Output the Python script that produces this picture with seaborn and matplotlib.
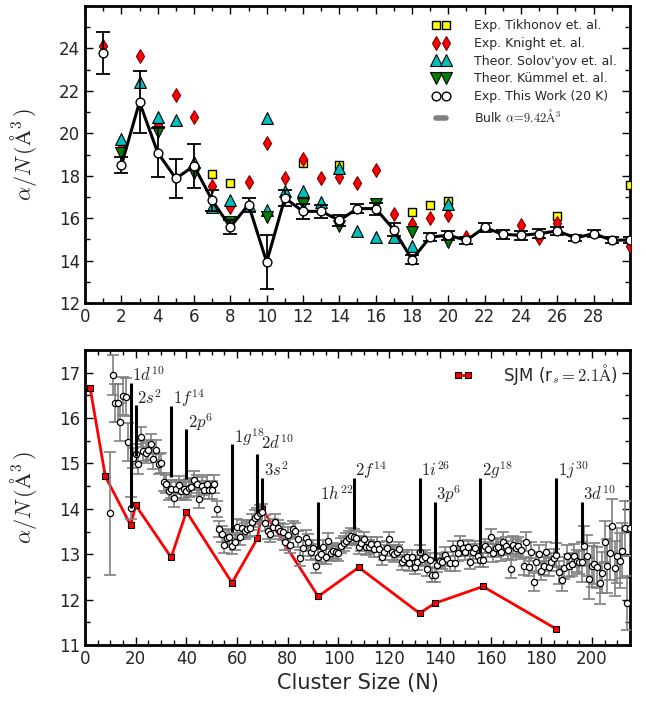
import numpy as np
import matplotlib
matplotlib.use("Agg")
import matplotlib.pyplot as plt
from matplotlib.lines import Line2D
from matplotlib.ticker import MultipleLocator
import seaborn as sns

# ---------------- top panel data ----------------
n_this = list(range(1, 31))
a_this = [23.79, 18.49, 21.47, 19.09, 17.87, 18.46, 16.84, 15.58, 16.64, 13.93,
          16.95, 16.32, 16.32, 15.90, 16.45, 16.45, 15.46, 14.05, 15.11, 15.19,
          14.96, 15.56, 15.24, 15.19, 15.27, 15.40, 15.07, 15.27, 14.96, 14.97]
e_this = [0.99, 0.38, 1.46, 1.15, 0.93, 1.02, 0.50, 0.33, 0.33, 1.27,
          0.40, 0.37, 0.30, 0.25, 0.20, 0.28, 0.30, 0.22, 0.20, 0.22,
          0.17, 0.20, 0.20, 0.20, 0.20, 0.20, 0.15, 0.15, 0.14, 0.15]

n_tik = [7, 8, 12, 14, 18, 19, 20, 26, 30]
a_tik = [18.10, 17.68, 18.58, 18.50, 16.29, 16.60, 16.79, 16.09, 17.58]

n_kni = [1, 2, 3, 4, 5, 6, 7, 8, 9, 10, 11, 12, 13, 14, 15, 16, 17, 18, 19, 20,
         21, 24, 25, 26, 30]
a_kni = [24.11, 19.31, 23.65, 20.45, 21.80, 20.75, 17.50, 16.53, 17.69, 19.55,
         17.87, 18.78, 17.87, 17.95, 17.64, 18.26, 16.19, 15.74, 16.03, 16.14,
         15.11, 15.70, 15.08, 15.78, 14.67]

n_sol = [2, 3, 4, 5, 6, 7, 8, 9, 10, 10, 11, 12, 13, 14, 15, 16, 17, 18, 20]
a_sol = [19.75, 22.42, 20.77, 20.65, 18.65, 16.53, 16.86, 16.62, 20.70, 16.37,
         17.29, 17.30, 16.74, 18.38, 15.40, 15.12, 15.12, 14.68, 16.65]

n_kum = [2, 4, 6, 8, 10, 12, 14, 16, 18, 20]
a_kum = [19.05, 20.06, 18.13, 15.82, 16.06, 16.66, 15.62, 16.69, 15.36, 14.88]

bulk_alpha = 9.42

# ---------------- bottom panel data ----------------
n_big = list(range(10, 216))
a_big = [13.90, 16.95, 16.33, 16.33, 15.92, 16.48, 16.47, 15.47, 14.02, 15.13,
         15.21, 14.98, 15.58, 15.27, 15.23, 15.30, 15.42, 15.09, 15.29, 14.98,
         15.02, 14.59, 14.55, 14.39, 14.44, 14.24, 14.43, 14.52, 14.39, 14.44,
         14.39, 14.46, 14.48, 14.63, 14.55, 14.21, 14.50, 14.41, 14.55, 14.41,
         14.42, 14.55, 13.99, 13.56, 13.45, 13.20, 13.35, 13.38, 13.18, 13.28,
         13.60, 13.39, 13.57, 13.51, 13.55, 13.58, 13.71, 13.79, 13.84, 13.90,
         13.92, 13.69, 13.52, 13.45, 13.59, 13.71, 13.58, 13.51, 13.49, 13.27,
         13.42, 13.20, 13.55, 13.51, 13.34, 12.91, 13.14, 13.35, 13.26, 13.05,
         13.14, 12.74, 12.95, 13.00, 13.16, 12.95, 13.30, 13.02, 13.08, 13.06,
         13.02, 13.19, 13.24, 13.30, 13.36, 13.41, 13.39, 13.36, 13.16, 13.24,
         13.33, 13.15, 13.16, 13.22, 13.11, 13.22, 13.11, 12.93, 13.04, 13.13,
         13.33, 13.04, 13.00, 13.04, 13.11, 12.82, 12.90, 12.93, 12.80, 12.93,
         12.72, 12.82, 13.04, 12.89, 12.93, 12.67, 12.87, 12.54, 12.54, 12.76,
         12.86, 12.84, 12.99, 12.89, 12.80, 13.13, 12.80, 13.02, 13.24, 13.13,
         13.04, 13.15, 12.84, 13.06, 13.13, 12.97, 12.87, 12.87, 13.18, 13.11,
         13.39, 13.02, 13.13, 13.16, 13.06, 13.28, 13.18, 13.09, 12.67, 13.20,
         13.13, 13.18, 13.09, 12.74, 13.28, 12.72, 13.06, 12.38, 12.84, 13.00,
         12.64, 12.74, 13.06, 12.72, 12.82, 12.91, 12.99, 12.60, 12.44, 12.70,
         12.96, 12.75, 12.78, 12.97, 12.85, 12.82, 12.83, 13.18, 12.97, 12.46,
         12.73, 12.79, 12.71, 12.36, 12.59, 13.28, 12.74, 13.03, 13.62, 12.69,
         12.97, 12.86, 13.08, 13.57, 11.93, 13.57]
e_big = [1.35, 0.45, 0.42, 0.42, 0.42, 0.42, 0.42, 0.42, 0.25, 0.22,
         0.22, 0.22, 0.22, 0.22, 0.22, 0.22, 0.22, 0.22, 0.22, 0.22,
         0.22, 0.20, 0.20, 0.20, 0.20, 0.20, 0.20, 0.20, 0.20, 0.20,
         0.20, 0.20, 0.20, 0.20, 0.20, 0.20, 0.20, 0.20, 0.20, 0.20,
         0.20, 0.20, 0.18, 0.18, 0.18, 0.18, 0.18, 0.18, 0.18, 0.18,
         0.18, 0.18, 0.18, 0.18, 0.18, 0.18, 0.18, 0.18, 0.18, 0.18,
         0.18, 0.18, 0.18, 0.18, 0.18, 0.18, 0.18, 0.18, 0.18, 0.18,
         0.18, 0.18, 0.18, 0.18, 0.18, 0.18, 0.18, 0.18, 0.18, 0.18,
         0.18, 0.16, 0.16, 0.16, 0.16, 0.16, 0.16, 0.16, 0.16, 0.16,
         0.16, 0.16, 0.16, 0.16, 0.16, 0.16, 0.16, 0.16, 0.16, 0.16,
         0.16, 0.16, 0.16, 0.16, 0.16, 0.16, 0.16, 0.16, 0.16, 0.16,
         0.16, 0.16, 0.16, 0.16, 0.16, 0.16, 0.16, 0.16, 0.16, 0.16,
         0.16, 0.16, 0.16, 0.16, 0.16, 0.16, 0.16, 0.16, 0.16, 0.16,
         0.16, 0.16, 0.16, 0.16, 0.16, 0.16, 0.16, 0.16, 0.16, 0.16,
         0.16, 0.16, 0.16, 0.16, 0.16, 0.16, 0.16, 0.16, 0.16, 0.16,
         0.16, 0.20, 0.20, 0.20, 0.20, 0.20, 0.20, 0.20, 0.20, 0.20,
         0.20, 0.20, 0.20, 0.20, 0.20, 0.20, 0.20, 0.20, 0.20, 0.20,
         0.20, 0.20, 0.20, 0.20, 0.20, 0.20, 0.25, 0.25, 0.25, 0.25,
         0.25, 0.25, 0.25, 0.25, 0.25, 0.25, 0.45, 0.45, 0.45, 0.45,
         0.45, 0.45, 0.45, 0.45, 0.45, 0.45, 0.60, 0.60, 0.60, 0.60,
         0.60, 0.60, 0.60, 0.60, 0.60, 0.60]

n_sjm = [2, 8, 18, 20, 34, 40, 58, 68, 70, 92, 108, 132, 138, 157, 186]
a_sjm = [16.67, 14.72, 13.64, 14.08, 12.93, 13.94, 12.37, 13.35, 13.99, 12.07,
         12.71, 11.70, 11.92, 12.29, 11.35]

shell_n = [18, 20, 34, 40, 58, 68, 70, 92, 106, 132, 138, 156, 186, 196]
shell_lo = [14.03, 15.16, 14.70, 14.65, 13.50, 13.90, 13.99, 13.11, 13.55, 13.03,
            12.85, 13.03, 13.03, 13.22]
shell_hi = [16.78, 16.28, 16.27, 15.75, 15.42, 15.22, 14.69, 14.16, 14.69, 14.69,
            14.16, 14.69, 14.69, 14.16]
shell_lab = [r'$1d^{10}$', r'$2s^{2}$', r'$1f^{14}$', r'$2p^{6}$', r'$1g^{18}$',
             r'$2d^{10}$', r'$3s^{2}$', r'$1h^{22}$', r'$2f^{14}$', r'$1i^{26}$',
             r'$3p^{6}$', r'$2g^{18}$', r'$1j^{30}$', r'$3d^{10}$']

# ---------------- style ----------------
sns.set_style("ticks")
plt.rcParams['font.family'] = ['DejaVu Sans']
plt.rcParams['mathtext.fontset'] = 'cm'

fig = plt.figure(figsize=(6.46, 7.06), dpi=100)
ax1 = fig.add_axes([0.1316, 0.5708, 0.8436, 0.4207])
ax2 = fig.add_axes([0.1316, 0.0864, 0.8436, 0.4178])

def style_axes(ax):
    for s in ax.spines.values():
        s.set_linewidth(2.0)
        s.set_color('black')
    ax.tick_params(which='both', direction='in', top=True, right=True,
                   width=1.0, color='black', labelsize=12)
    ax.tick_params(which='major', length=6)
    ax.tick_params(which='minor', length=3.5)

# ---------------- top panel ----------------
ax1.axhline(bulk_alpha, color='gray', lw=4)
sns.scatterplot(x=n_tik, y=a_tik, marker='s', s=36, color='yellow',
                edgecolor='black', linewidth=1.0, ax=ax1, zorder=3)
sns.scatterplot(x=n_kni, y=a_kni, marker='d', s=49, color='red',
                edgecolor='#7a0000', linewidth=0.8, ax=ax1, zorder=3)
sns.scatterplot(x=n_sol, y=a_sol, marker='^', s=72, color='#00bfbf',
                edgecolor='black', linewidth=0.8, ax=ax1, zorder=3)
sns.scatterplot(x=n_kum, y=a_kum, marker='v', s=72, color='#008000',
                edgecolor='black', linewidth=0.8, ax=ax1, zorder=3)
sns.lineplot(x=n_this[1:], y=a_this[1:], color='black', lw=2.2, ax=ax1,
             estimator=None, sort=False, zorder=4, legend=False)
ax1.errorbar(n_this, a_this, yerr=e_this, fmt='none', ecolor='black',
             elinewidth=1.3, capsize=5, capthick=1.3, zorder=4)
sns.scatterplot(x=n_this, y=a_this, marker='o', s=40, color='white',
                edgecolor='black', linewidth=1.0, ax=ax1, zorder=5)

ax1.set_xlim(0, 30)
ax1.set_ylim(12, 26)
ax1.xaxis.set_minor_locator(MultipleLocator(1))
ax1.yaxis.set_minor_locator(MultipleLocator(1))
ax1.set_xticks(np.arange(0, 29, 2))
ax1.set_yticks(np.arange(12, 25, 2))
ax1.set_ylabel(r'$\alpha/N\,(\mathrm{\AA}^3\,)$', fontsize=16)
style_axes(ax1)

h = [
    Line2D([], [], ls='none', marker='s', ms=6, mfc='yellow', mec='black', mew=1.0),
    Line2D([], [], ls='none', marker='d', ms=7, mfc='red', mec='#7a0000', mew=0.8),
    Line2D([], [], ls='none', marker='^', ms=8.5, mfc='#00bfbf', mec='black', mew=0.8),
    Line2D([], [], ls='none', marker='v', ms=8.5, mfc='#008000', mec='black', mew=0.8),
    Line2D([], [], ls='none', marker='o', ms=6.3, mfc='white', mec='black', mew=1.0),
    Line2D([], [], color='gray', lw=4),
]
lab = ['Exp. Tikhonov et. al.', 'Exp. Knight et. al.', "Theor. Solov'yov et. al.",
       'Theor. Kümmel et. al.', 'Exp. This Work (20 K)',
       r'Bulk $\alpha\!=\!9.42\mathrm{\AA}^3$']
ax1.legend(h, lab, loc='upper right', frameon=False, fontsize=9, numpoints=2,
           handlelength=1.4, handletextpad=1.9, labelspacing=0.38,
           borderaxespad=0.65)

# ---------------- bottom panel ----------------
sns.lineplot(x=n_sjm, y=a_sjm, color='red', lw=2.0, ax=ax2, estimator=None,
             sort=False, zorder=2, legend=False)
sns.scatterplot(x=n_sjm, y=a_sjm, marker='s', s=22, color='red',
                edgecolor='black', linewidth=0.8, ax=ax2, zorder=2.5)
ax2.errorbar(n_big, a_big, yerr=e_big, fmt='none', ecolor='gray',
             elinewidth=1.2, capsize=4, capthick=1.2, zorder=3)
sns.scatterplot(x=n_big, y=a_big, marker='o', s=20, color='white',
                edgecolor='black', linewidth=0.9, ax=ax2, zorder=4)
ax2.vlines(shell_n, shell_lo, shell_hi, colors='black', lw=2.2, zorder=5)
for xn, yh, t in zip(shell_n, shell_hi, shell_lab):
    dy = 0.10 if t == r'$2d^{10}$' else 0.03
    dx = 1.3 if t == r'$2d^{10}$' else 0.6
    ax2.text(xn + dx, yh + dy, t, fontsize=12, ha='left', va='baseline',
             zorder=6)

ax2.set_xlim(0, 215)
ax2.set_ylim(11, 17.5)
ax2.xaxis.set_major_locator(MultipleLocator(20))
ax2.xaxis.set_minor_locator(MultipleLocator(5))
ax2.yaxis.set_major_locator(MultipleLocator(1))
ax2.yaxis.set_minor_locator(MultipleLocator(0.5))
ax2.set_xlabel('Cluster Size (N)', fontsize=15)
ax2.set_ylabel(r'$\alpha/N\,(\mathrm{\AA}^3\,)$', fontsize=16)
style_axes(ax2)

h2 = [Line2D([], [], color='red', lw=2.0, marker='s', ms=4.7, mfc='red',
             mec='black', mew=0.8)]
ax2.legend(h2, [r'SJM (r$_s=2.1\mathrm{\AA}$)'], loc='upper right',
           frameon=False, fontsize=12, numpoints=2, handlelength=1.2,
           handletextpad=1.8, borderaxespad=0.3)

ax1.yaxis.set_label_coords(-0.085, 0.5)
ax2.yaxis.set_label_coords(-0.085, 0.5)

fig.savefig('out.png', dpi=100)
